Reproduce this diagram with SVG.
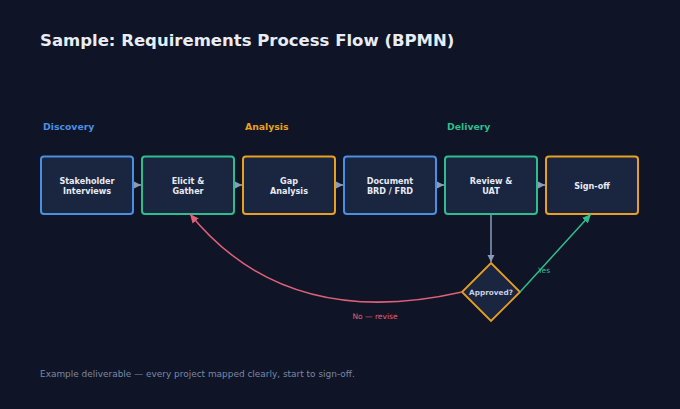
<svg xmlns="http://www.w3.org/2000/svg" width="680" height="409" viewBox="0 0 680 409">
<defs>
<style>
text{font-family:"DejaVu Sans","Noto Sans",sans-serif}
.title{font-size:16.5px;font-weight:bold;fill:#e8ecf5}
.lane{font-size:9.3px;font-weight:bold}
.box{fill:#1a2540;stroke-width:2}
.lbl{font-size:8.1px;font-weight:bold;fill:#e6eaf2;text-anchor:middle}
.flow{stroke:#8a9bb8;stroke-width:1.5;fill:none}
.blue{stroke:#4a90e2}.green{stroke:#2ebd8e}.orange{stroke:#e8a020}
</style>
<marker id="ag" markerWidth="8" markerHeight="8" refX="7" refY="4" orient="auto" markerUnits="userSpaceOnUse"><path d="M0,0.5 L7,4 L0,7.5 Z" fill="#8a9bb8"/></marker>
<marker id="ar" markerWidth="10" markerHeight="10" refX="9" refY="5" orient="auto" markerUnits="userSpaceOnUse"><path d="M0,1 L9,5 L0,9 Z" fill="#e0607a"/></marker>
<marker id="at" markerWidth="10" markerHeight="10" refX="9" refY="5" orient="auto" markerUnits="userSpaceOnUse"><path d="M0,1 L9,5 L0,9 Z" fill="#2ebd8e"/></marker>
</defs>
<rect width="680" height="409" fill="#0f1526"/>
<text class="title" x="40" y="46">Sample: Requirements Process Flow (BPMN)</text>
<text class="lane" x="43" y="130" fill="#4a90e2">Discovery</text>
<text class="lane" x="245" y="130" fill="#e8a020">Analysis</text>
<text class="lane" x="447" y="130" fill="#2ebd8e">Delivery</text>
<g id="n1"><rect class="box blue" x="41" y="156.5" width="92" height="57.5" rx="3"/><text class="lbl" x="87" y="184">Stakeholder</text><text class="lbl" x="87" y="194">Interviews</text></g>
<g id="n2"><rect class="box green" x="142" y="156.5" width="92" height="57.5" rx="3"/><text class="lbl" x="188" y="184">Elicit &amp;</text><text class="lbl" x="188" y="194">Gather</text></g>
<g id="n3"><rect class="box orange" x="243" y="156.5" width="92" height="57.5" rx="3"/><text class="lbl" x="289" y="184">Gap</text><text class="lbl" x="289" y="194">Analysis</text></g>
<g id="n4"><rect class="box blue" x="344" y="156.5" width="92" height="57.5" rx="3"/><text class="lbl" x="390" y="184">Document</text><text class="lbl" x="390" y="194">BRD / FRD</text></g>
<g id="n5"><rect class="box green" x="445" y="156.5" width="92" height="57.5" rx="3"/><text class="lbl" x="491" y="184">Review &amp;</text><text class="lbl" x="491" y="194">UAT</text></g>
<g id="n6"><rect class="box orange" x="546" y="156.5" width="92" height="57.5" rx="3"/><text class="lbl" x="592" y="188.5">Sign-off</text></g>
<g id="gw"><path d="M491,263 L520,292 L491,321 L462,292 Z" fill="#1a2540" stroke="#e8a020" stroke-width="1.8"/><text x="491" y="295" font-size="7.3" font-weight="bold" fill="#c8d0e0" text-anchor="middle">Approved?</text></g>
<g id="connectors">
<line class="flow" x1="134" y1="185" x2="141" y2="185" marker-end="url(#ag)"/>
<line class="flow" x1="235" y1="185" x2="242" y2="185" marker-end="url(#ag)"/>
<line class="flow" x1="336" y1="185" x2="343" y2="185" marker-end="url(#ag)"/>
<line class="flow" x1="437" y1="185" x2="444" y2="185" marker-end="url(#ag)"/>
<line class="flow" x1="538" y1="185" x2="545" y2="185" marker-end="url(#ag)"/>
<line class="flow" x1="491" y1="215" x2="491" y2="262" marker-end="url(#ag)"/>
<text x="538" y="273" font-size="7.5" fill="#2ebd8e">Yes</text>
<line x1="520" y1="292" x2="591" y2="214" stroke="#2ebd8e" stroke-width="1.5" marker-end="url(#at)"/>
<path d="M462,292 Q286,332 190,214" stroke="#e0607a" stroke-width="1.5" fill="none" marker-end="url(#ar)"/>
<text x="375" y="319" font-size="7.5" fill="#e0607a" text-anchor="middle">No — revise</text>
</g>
<text x="40" y="377" font-size="8.95" fill="#7a88a8">Example deliverable — every project mapped clearly, start to sign-off.</text>
</svg>
